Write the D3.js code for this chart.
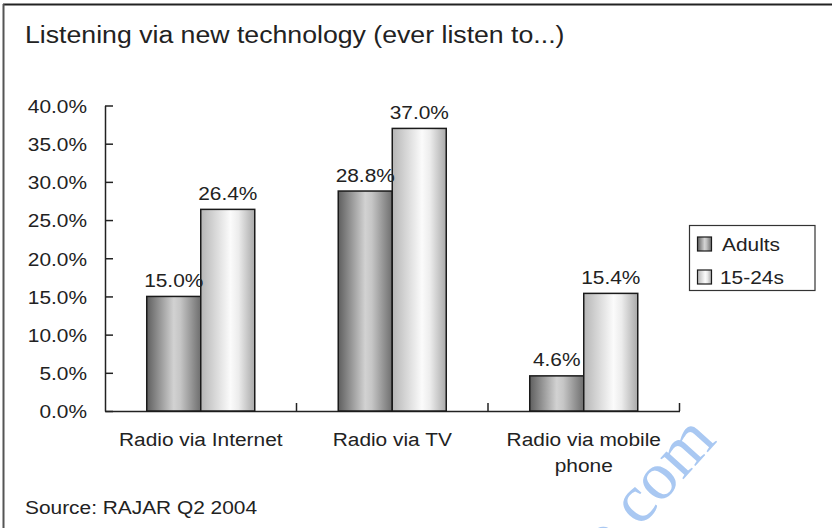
<!DOCTYPE html>
<html>
<head>
<meta charset="utf-8">
<script src="https://cdn.jsdelivr.net/npm/d3@7"></script>
<style>
  html, body { margin: 0; padding: 0; background: #fff; }
  svg { display: block; }
  text { font-family: "Liberation Sans", Arial, Helvetica, sans-serif; fill: #222; }
</style>
</head>
<body>
<svg id="chart" width="832" height="528"></svg>
<script>
// Chart data
const categories = ["Radio via Internet", "Radio via TV", "Radio via mobile phone"];
const seriesNames = ["Adults", "15-24s"];
const adults = [15.0, 28.8, 4.6];
const youth = [26.4, 37.0, 15.4];
const yTicks = [0, 5, 10, 15, 20, 25, 30, 35, 40];
const titleText = "Listening via new technology (ever listen to...)";
const sourceText = "Source: RAJAR Q2 2004";

const seriesValues = [adults, youth];
const rows = categories.map((c, i) => ({
  category: c,
  values: seriesNames.map((s, j) => ({ series: s, value: seriesValues[j][i] }))
}));

// Typeface is drawn slightly widened
const SX = 1.16;
const svg = d3.select("#chart");

// Outer frame (top and left edges)
svg.append("line").attr("x1", 3).attr("x2", 832).attr("y1", 4.5).attr("y2", 4.5)
  .attr("stroke", "#222").attr("stroke-width", 2);
svg.append("line").attr("x1", 3.5).attr("x2", 3.5).attr("y1", 4).attr("y2", 528)
  .attr("stroke", "#555").attr("stroke-width", 2);

// Gradients for the shaded bars
const defs = svg.append("defs");
const gradSpecs = {
  "Adults": [[0, "#5f5f5f"], [0.5, "#d2d2d2"], [0.62, "#c6c6c6"], [1, "#6e6e6e"]],
  "15-24s": [[0, "#b6b6b6"], [0.55, "#fbfbfb"], [0.7, "#ececec"], [1, "#a9a9a9"]]
};
seriesNames.forEach((s, i) => {
  const g = defs.append("linearGradient").attr("id", "grad" + i)
    .attr("x1", 0).attr("x2", 1).attr("y1", 0).attr("y2", 0);
  gradSpecs[s].forEach(([o, c]) => g.append("stop").attr("offset", o).attr("stop-color", c));
});

// Scales
const x0 = d3.scaleBand().domain(categories).range([105, 679.5]).paddingInner(0).paddingOuter(0);
const x1 = d3.scaleBand().domain(seriesNames).range([0, x0.bandwidth()]).paddingOuter(0.773);
const y = d3.scaleLinear().domain([0, 40]).range([411, 105.5]);

// Site watermark (drawn first, behind the text)
svg.append("text")
  .attr("transform", "translate(718,441) rotate(-48)")
  .attr("text-anchor", "end")
  .style("font-family", "Liberation Serif, Times New Roman, serif")
  .style("font-size", "68px")
  .style("fill", "#a9c8f2")
  .text("o.com");

// Title
svg.append("text")
  .attr("transform", `translate(25,43) scale(${SX},1)`)
  .style("font-size", "23px")
  .text(titleText);

// Y axis (ticks point inward)
const yAxis = svg.append("g").attr("transform", "translate(105,0)")
  .call(d3.axisLeft(y).tickValues(yTicks).tickSize(-8).tickSizeOuter(0)
    .tickFormat(d => d.toFixed(1) + "%"));
yAxis.select(".domain").attr("stroke", "#222").attr("stroke-width", 1.5);
yAxis.selectAll(".tick line").attr("stroke", "#222").attr("stroke-width", 1.5);
yAxis.selectAll(".tick text")
  .attr("x", null).attr("dy", null)
  .attr("transform", `translate(-18,6.8) scale(${SX},1)`)
  .attr("fill", "#222")
  .style("font-size", "18px")
  .style("font-family", "Liberation Sans, Arial, sans-serif");

// X axis with category boundary ticks
const xAxis = svg.append("g").attr("transform", `translate(0,${y(0)})`)
  .call(d3.axisBottom(x0).tickSize(0).tickSizeOuter(0).tickFormat(""));
xAxis.select(".domain").attr("stroke", "#222").attr("stroke-width", 1.5);
const bounds = categories.map(c => x0(c) + x0.bandwidth());
svg.append("g").selectAll("line").data(bounds).join("line")
  .attr("x1", d => d).attr("x2", d => d)
  .attr("y1", y(0)).attr("y2", y(0) - 8)
  .attr("stroke", "#222").attr("stroke-width", 1.5);

// Category labels, wrapped to the band width
const catG = svg.append("g");
rows.forEach(r => {
  const cx = x0(r.category) + x0.bandwidth() / 2;
  const words = r.category.split(" ");
  const lines = [];
  let cur = [];
  const probe = catG.append("text").style("font-size", "18px");
  words.forEach(w => {
    const test = cur.concat([w]).join(" ");
    probe.text(test);
    if (probe.node().getComputedTextLength() * SX > x0.bandwidth() - 12 && cur.length) {
      lines.push(cur.join(" "));
      cur = [w];
    } else {
      cur.push(w);
    }
  });
  lines.push(cur.join(" "));
  probe.remove();
  lines.forEach((ln, k) => {
    catG.append("text")
      .attr("text-anchor", "middle")
      .attr("transform", `translate(${cx},${446 + k * 25.5}) scale(${SX},1)`)
      .style("font-size", "18px")
      .text(ln);
  });
});

// Bars
const groups = svg.append("g").selectAll("g").data(rows).join("g")
  .attr("transform", d => `translate(${x0(d.category)},0)`);
groups.selectAll("rect").data(d => d.values).join("rect")
  .attr("x", d => x1(d.series))
  .attr("width", x1.bandwidth())
  .attr("y", d => y(d.value))
  .attr("height", d => y(0) - y(d.value))
  .attr("fill", d => `url(#grad${seriesNames.indexOf(d.series)})`)
  .attr("stroke", "#1a1a1a").attr("stroke-width", 1.5);

// Value labels above bars
groups.selectAll("text.val").data(d => d.values).join("text")
  .attr("class", "val")
  .attr("text-anchor", "middle")
  .attr("transform", d => `translate(${x1(d.series) + x1.bandwidth() / 2},${y(d.value) - 9.5}) scale(${SX},1)`)
  .style("font-size", "18px")
  .text(d => d.value.toFixed(1) + "%");

// Legend
const legend = svg.append("g");
legend.append("rect").attr("x", 689.5).attr("y", 225.5).attr("width", 125.5).attr("height", 65)
  .attr("fill", "#fff").attr("stroke", "#333").attr("stroke-width", 1.2);
seriesNames.forEach((s, i) => {
  const ly = 237 + i * 33;
  legend.append("rect").attr("x", 697.5).attr("y", ly).attr("width", 14).attr("height", 14)
    .attr("fill", `url(#grad${i})`).attr("stroke", "#1a1a1a").attr("stroke-width", 1.2);
  legend.append("text")
    .attr("transform", `translate(${i === 0 ? 722 : 720},${ly + 13.5}) scale(${SX},1)`)
    .style("font-size", "18px")
    .text(s);
});

// Source note
svg.append("text")
  .attr("transform", `translate(25,514) scale(${SX},1)`)
  .style("font-size", "18px")
  .text(sourceText);
</script>
</body>
</html>
